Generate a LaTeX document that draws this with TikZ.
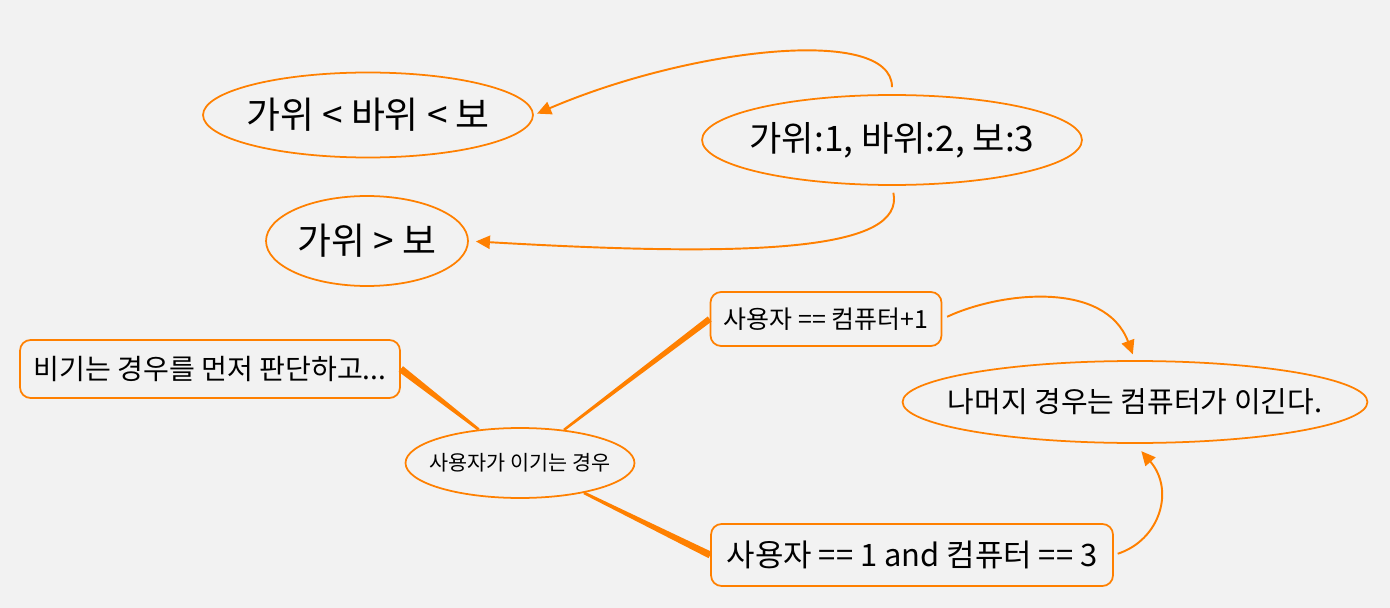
\documentclass[tikz,border=0pt]{standalone}
\usepackage{fontspec}
\setmainfont{Noto Sans CJK KR}
\usetikzlibrary{arrows.meta, shapes.geometric, calc}
\definecolor{orng}{HTML}{FF8000}
\definecolor{paper}{HTML}{F2F2F2}
% tapered branch between two anchors
\newcommand{\branch}[4]{\fill[orng] ($(#1)!#3!90:(#2)$) -- ($(#1)!#3!-90:(#2)$) -- ($(#2)!#4!90:(#1)$) -- ($(#2)!#4!-90:(#1)$) -- cycle;}

\begin{document}
\begin{tikzpicture}[
  x=0.02cm, y=-0.02cm,
  ell/.style={draw=orng, line width=1pt, ellipse, inner sep=0pt},
  box/.style={draw=orng, line width=1pt, rounded corners=6pt, inner sep=0pt},
  arr/.style={-{Triangle[length=8pt, width=7.5pt]}, orng, line width=1.1pt},
  big/.style={font=\fontsize{21}{24}\selectfont}
]
% paper
\fill[paper] (0,0) rectangle (1390,608);

% top group
\node[ell, big, minimum width=6.6cm, minimum height=1.7cm, inner xsep=-5pt] (order) at (368,115) {가위 < 바위 < 보};
\node[ell, font=\fontsize{20}{23}\selectfont, minimum width=7.6cm, minimum height=1.8cm, inner xsep=-6pt] (rps) at (892,140) {가위:1, 바위:2, 보:3};
\node[ell, big, minimum width=4.04cm, minimum height=1.8cm] (except) at (367,241) {가위 > 보};

\draw[arr, shorten <=4pt, shorten >=2pt] (rps.north) .. controls (892,25) and (690,48) .. (order.east);
\draw[arr, shorten <=4pt, shorten >=4pt] (rps.south) .. controls (905,250) and (760,258) .. (except.east);

% bottom group
\node[box, minimum width=7.6cm, minimum height=1.16cm, font=\fontsize{16}{18}\selectfont] (tie) at (210,369) {비기는 경우를 먼저 판단하고...};
\node[ell, minimum width=4.58cm, minimum height=1.4cm, inner xsep=-6pt, font=\fontsize{11.8}{14}\selectfont] (userwin) at (520,463) {사용자가 이기는 경우};
\node[box, minimum width=4.62cm, minimum height=1.08cm, font=\fontsize{14.2}{16}\selectfont] (plusone) at (826,319) {사용자 == 컴퓨터+1};
\node[box, minimum width=8.04cm, minimum height=1.24cm, font=\fontsize{17.6}{20}\selectfont] (wrap) at (912,555) {사용자 == 1 and 컴퓨터 == 3};
\node[ell, minimum width=9.3cm, minimum height=1.64cm, inner xsep=-14pt, font=\fontsize{16.5}{19}\selectfont] (compwin) at (1135,402) {나머지 경우는 컴퓨터가 이긴다.};

\branch{tie.east}{userwin.141}{2pt}{0.8pt}
\branch{userwin.37}{plusone.west}{0.7pt}{1.8pt}
\branch{userwin.335}{wrap.west}{0.8pt}{2pt}

\draw[arr, shorten <=3pt, shorten >=3.5pt] (plusone.east) .. controls (1000,292) and (1105,280) .. (compwin.north);
\draw[arr, shorten <=2.3pt, shorten >=5.5pt] (wrap.east) .. controls (1160,540) and (1175,490) .. (compwin.south);
\end{tikzpicture}
\end{document}
